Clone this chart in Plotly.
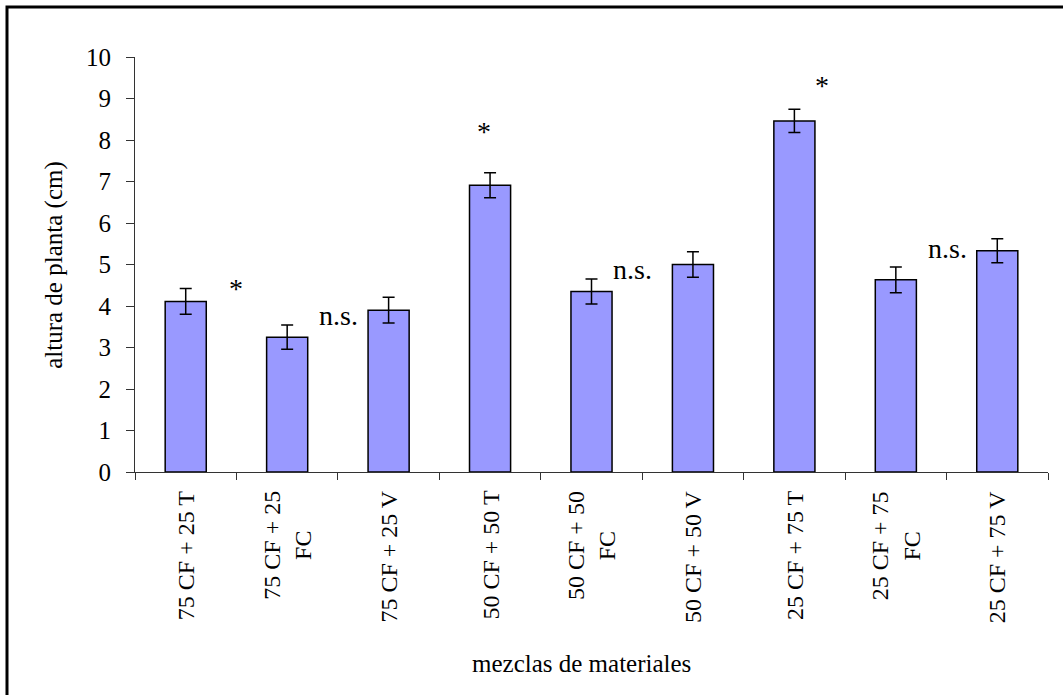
import plotly.graph_objects as go

categories = ["75 CF + 25 T", "75 CF + 25<br>FC", "75 CF + 25 V",
              "50 CF + 50 T", "50 CF + 50<br>FC", "50 CF + 50 V",
              "25 CF + 75 T", "25 CF + 75<br>FC", "25 CF + 75 V"]
heights = [4.11, 3.25, 3.90, 6.91, 4.35, 5.00, 8.46, 4.63, 5.33]
errors = [0.31, 0.29, 0.31, 0.30, 0.30, 0.31, 0.28, 0.31, 0.29]

sig_labels = ["*", "n.s.", "*", "n.s.", "*", "n.s."]
sig_x = [0.50, 1.51, 2.94, 4.40, 6.27, 7.51]
sig_y = [4.42, 3.78, 8.21, 4.87, 9.32, 5.39]

y_ticks = list(range(0, 11))

FONT = "Liberation Serif, Times New Roman, serif"
FS = 24

fig = go.Figure()
fig.add_trace(go.Bar(
    x=categories, y=heights,
    width=0.405,
    marker=dict(color="#9999FF", line=dict(color="black", width=1.5)),
    error_y=dict(type="data", array=errors, color="black", thickness=1.5, width=6),
    showlegend=False,
))

annotations = []
for c in categories:
    annotations.append(dict(
        x=c, xref="x", y=0, yref="paper", yshift=-17, yanchor="top", xanchor="center",
        text=c, textangle=-90, showarrow=False, align="center",
        font=dict(family=FONT, size=FS, color="black")))
for t, xx, yy in zip(sig_labels, sig_x, sig_y):
    annotations.append(dict(
        x=xx, xref="x", y=yy, yref="y", xanchor="center", yanchor="middle",
        text=t, showarrow=False, font=dict(family=FONT, size=28, color="black")))
annotations.append(dict(
    x=0.489, xref="paper", y=-0.462, yref="paper", xanchor="center", yanchor="middle",
    text="mezclas de materiales", showarrow=False,
    font=dict(family=FONT, size=25, color="black")))
annotations.append(dict(
    x=-0.0895, xref="paper", y=0.5, yref="paper", xanchor="center", yanchor="middle",
    text="altura de planta (cm)", textangle=-90, showarrow=False,
    font=dict(family=FONT, size=25, color="black")))

fig.update_layout(
    width=1063, height=695,
    margin=dict(l=135, r=15, t=57, b=223),
    paper_bgcolor="white", plot_bgcolor="white",
    font=dict(family=FONT, size=FS, color="black"),
    annotations=annotations,
    shapes=[dict(type="rect", xref="paper", yref="paper",
                 x0=-0.1402, x1=1.2, y0=-1.0, y1=1.1205,
                 line=dict(color="black", width=3), layer="above")],
    xaxis=dict(type="category", range=[-0.5, 8.5], tickson="boundaries",
               ticks="outside", ticklen=7, tickcolor="#333", showticklabels=False,
               showline=True, linecolor="#333", linewidth=1, showgrid=False, zeroline=False),
    yaxis=dict(range=[0, 10], tickvals=y_ticks, ticks="outside", ticklen=8, tickcolor="#333",
               showline=True, linecolor="#333", linewidth=1, showgrid=False, zeroline=False,
               ticklabelstandoff=10, tickfont=dict(family=FONT, size=25, color="black")),
)

fig.write_html("out.html", config={"displayModeBar": False},
               post_script="document.body.style.margin='0';document.body.style.padding='0';")
